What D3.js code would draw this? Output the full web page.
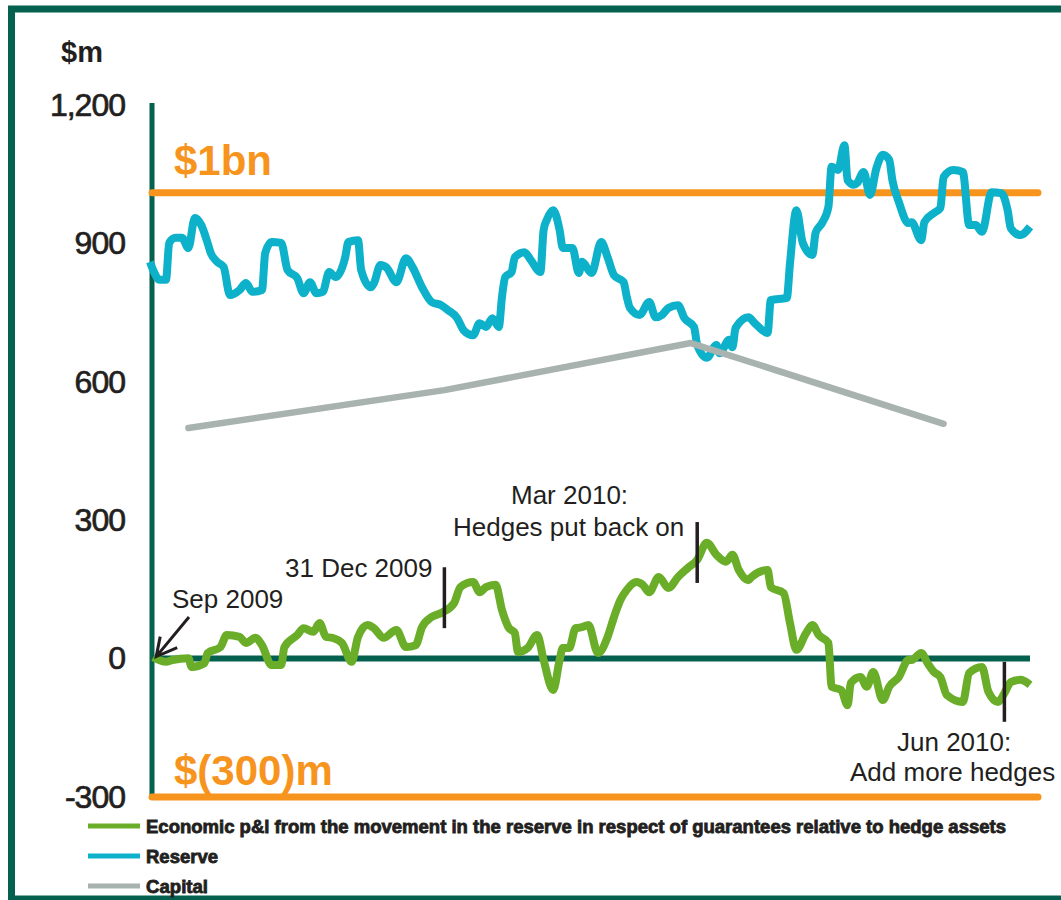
<!DOCTYPE html>
<html>
<head>
<meta charset="utf-8">
<script src="https://cdn.jsdelivr.net/npm/d3@7"></script>
<style>
  body { margin: 0; background: #fff; }
  text { font-family: Arial, "Liberation Sans", sans-serif; fill: #231f20; }
</style>
</head>
<body>
<script>
// chart size
var w = 1061;
var h = 900;

// first day on the x axis (end of Sep 2009), days counted from here
var startDate = new Date(2009, 8, 30);
var totalDays = 275;

// reserve ($m)
var reserveDays = [0,1,3,5,6,8,10,12,14,16,18,19,21,23,25,28,30,32,35,36,38,41,43,46,48,50,52,54,56,58,
  61,62,65,66,69,70,72,74,77,80,82,85,88,91,93,96,98,101,103,105,107,109,110,111,113,114,117,119,122,123,
  124,126,128,129,132,134,135,138,141,143,145,148,149,150,153,156,158,160,162,165,167,170,171,174,177,178,
  181,182,183,187,189,193,194,199,200,202,204,207,208,210,212,213,215,217,218,220,221,223,225,227,229,231,
  232,234,237,238,241,242,245,247,248,251,254,256,258,260,263,266,268,269,272,275];
var reserveValues = [860,842,821,821,901,912,912,890,955,940,901,879,860,849,788,799,814,795,799,879,903,901,842,825,792,816,792,795,838,827,
  870,903,907,842,805,814,853,847,816,868,849,805,773,766,756,738,712,701,727,719,738,719,784,827,838,870,881,864,838,929,
  951,972,929,890,890,836,860,836,903,870,831,816,784,760,745,773,740,745,760,766,738,719,680,652,680,662,
  691,675,717,740,727,706,777,782,857,972,901,875,923,944,979,1066,1059,1113,1037,1027,1031,1055,1005,1063,1092,1081,
  1037,990,944,946,907,946,966,977,1044,1059,1055,940,940,925,1011,1009,972,933,918,936];

// economic p&l ($m)
var pnlDays = [1,5,7,12,13,17,18,22,24,28,30,33,35,38,41,42,46,48,51,53,55,57,60,63,65,68,70,73,77,80,
  83,85,88,91,95,97,101,103,105,108,110,112,114,115,118,121,123,126,128,129,131,133,135,137,140,143,145,147,149,152,
  154,156,159,162,165,168,171,174,177,180,182,184,187,188,193,194,198,200,202,205,207,209,212,213,216,218,219,222,224,226,
  229,231,234,237,238,241,243,245,247,249,254,256,260,262,265,267,269,272,275];
var pnlValues = [3,-7,-3,1,-18,-10,12,25,51,47,34,45,29,-14,-14,25,51,66,58,77,47,45,34,-7,47,73,66,45,62,25,
  29,68,90,99,120,155,166,144,155,160,105,68,55,14,23,51,-3,-68,-3,23,23,66,68,73,12,47,90,127,149,166,
  160,144,177,153,177,196,214,251,225,210,225,192,170,177,192,155,142,77,19,55,73,51,34,-61,-68,-101,-53,-40,-61,-29,
  -90,-61,-40,-3,-3,12,-10,-29,-40,-79,-94,-31,-18,-72,-94,-75,-51,-46,-57];

// capital ($m)
var capitalDays = [12, 92, 169, 248];
var capitalValues = [500, 582, 684, 509];

// y axis ticks and reference levels
var yTicks = [-300, 0, 300, 600, 900, 1200];
var upperLevel = 1010;
var lowerLevel = -300;

// annotation ticks: day, top value, bottom value
var notes = [
  { day: 92, top: 198, bottom: 66 },
  { day: 171, top: 296, bottom: 164 },
  { day: 267, top: -7, bottom: -137 }
];

var legendNames = ["Economic p&l from the movement in the reserve in respect of guarantees relative to hedge assets", "Reserve", "Capital"];
var colors = { pnl: "#6aad28", reserve: "#0db1c9", capital: "#a8b2ae", orange: "#f7941d", frame: "#04614f" };

var toDate = function(d) { return d3.timeDay.offset(startDate, d); };

var x = d3.scaleTime()
  .domain([startDate, toDate(totalDays)])
  .range([150, 1030]);

var y = d3.scaleLinear()
  .domain([-300, 1200])
  .range([797, 105]);

var svg = d3.select("body")
  .append("svg")
  .attr("width", w)
  .attr("height", h);

// frame round the slide
svg.append("rect")
  .attr("x", 11.5).attr("y", 9)
  .attr("width", 1120).attr("height", 890)
  .attr("fill", "none")
  .attr("stroke", colors.frame)
  .attr("stroke-width", 7);

// $m title
svg.append("text")
  .attr("x", 61).attr("y", 62)
  .attr("font-size", 29).attr("font-weight", "bold")
  .text("$m");

// y axis labels
var axis = svg.append("g")
  .attr("transform", "translate(152,0)")
  .call(d3.axisLeft(y).tickValues(yTicks).tickSize(0).tickPadding(27)
    .tickFormat(function(d) { return d3.format(",")(d).replace("\u2212", "-"); }));
axis.select(".domain").remove();
axis.selectAll("text")
  .attr("font-size", 32)
  .attr("letter-spacing", -1)
  .attr("font-family", "Arial, 'Liberation Sans', sans-serif")
  .attr("fill", "#231f20")
  .attr("stroke", "#231f20")
  .attr("stroke-width", 0.7);

// y axis line
svg.append("line")
  .attr("x1", 152).attr("x2", 152)
  .attr("y1", 103).attr("y2", y(lowerLevel))
  .attr("stroke", colors.frame).attr("stroke-width", 5);

// orange reference levels
svg.selectAll(".level")
  .data([upperLevel, lowerLevel])
  .enter().append("line")
  .attr("x1", 152).attr("x2", 1038)
  .attr("y1", function(d) { return y(d); })
  .attr("y2", function(d) { return y(d); })
  .attr("stroke", colors.orange)
  .attr("stroke-width", 7)
  .attr("stroke-linecap", "round");

svg.append("text")
  .attr("x", 174).attr("y", 175)
  .attr("font-size", 42).attr("font-weight", "bold")
  .style("fill", colors.orange)
  .text("$1bn");

svg.append("text")
  .attr("x", 174).attr("y", 785)
  .attr("font-size", 42).attr("font-weight", "bold")
  .style("fill", colors.orange)
  .text("$(300)m");

// zero line
svg.append("line")
  .attr("x1", 152).attr("x2", x(toDate(totalDays)))
  .attr("y1", y(0)).attr("y2", y(0))
  .attr("stroke", colors.frame).attr("stroke-width", 6);

var line = d3.line()
  .curve(d3.curveMonotoneX)
  .x(function(d) { return x(toDate(d[0])); })
  .y(function(d) { return y(d[1]); });

var zip = function(a, b) { return a.map(function(d, i) { return [d, b[i]]; }); };

svg.append("path")
  .datum(zip(reserveDays, reserveValues))
  .attr("d", line)
  .attr("fill", "none")
  .attr("stroke", colors.reserve)
  .attr("stroke-width", 8)
  .attr("stroke-linejoin", "round");

svg.append("path")
  .datum(zip(capitalDays, capitalValues))
  .attr("d", d3.line()
    .x(function(d) { return x(toDate(d[0])); })
    .y(function(d) { return y(d[1]); }))
  .attr("fill", "none")
  .attr("stroke", colors.capital)
  .attr("stroke-width", 6.5)
  .attr("stroke-linecap", "round")
  .attr("stroke-linejoin", "round");

svg.append("path")
  .datum(zip(pnlDays, pnlValues))
  .attr("d", line)
  .attr("fill", "none")
  .attr("stroke", colors.pnl)
  .attr("stroke-width", 8)
  .attr("stroke-linejoin", "round");

// annotation ticks
svg.selectAll(".note")
  .data(notes)
  .enter().append("line")
  .attr("x1", function(d) { return x(toDate(d.day)); })
  .attr("x2", function(d) { return x(toDate(d.day)); })
  .attr("y1", function(d) { return y(d.top); })
  .attr("y2", function(d) { return y(d.bottom); })
  .attr("stroke", "#231f20")
  .attr("stroke-width", 3.5);

// arrow to Sep 2009 start
var tipX = x(toDate(1)) + 3, tipY = y(0) - 2;
svg.append("path")
  .attr("d", "M189,617L" + tipX + "," + tipY + "M" + (tipX + 4) + "," + (tipY - 20) + "L" + tipX + "," + tipY + "L" + (tipX + 21) + "," + (tipY - 9))
  .attr("fill", "none")
  .attr("stroke", "#231f20")
  .attr("stroke-width", 3);

var noteText = [
  { x: 172, y: 608, t: "Sep 2009" },
  { x: 285, y: 577, t: "31 Dec 2009" },
  { x: 511, y: 504, t: "Mar 2010:" },
  { x: 453, y: 536, t: "Hedges put back on" },
  { x: 897, y: 751, t: "Jun 2010:" },
  { x: 850, y: 781, t: "Add more hedges" }
];
svg.selectAll(".noteText")
  .data(noteText)
  .enter().append("text")
  .attr("x", function(d) { return d.x; })
  .attr("y", function(d) { return d.y; })
  .attr("font-size", 26)
  .text(function(d) { return d.t; });

// legend
var legendColors = [colors.pnl, colors.reserve, colors.capital];
var legend = svg.selectAll(".legend")
  .data(legendNames)
  .enter().append("g")
  .attr("transform", function(d, i) { return "translate(0," + (826 + i * 30) + ")"; });

legend.append("line")
  .attr("x1", 88).attr("x2", 140)
  .attr("stroke", function(d, i) { return legendColors[i]; })
  .attr("stroke-width", 5);

legend.append("text")
  .attr("x", 146).attr("y", 7)
  .attr("font-size", 18)
  .attr("font-weight", "900")
  .attr("stroke", "#231f20")
  .attr("stroke-width", 0.8)
  .attr("textLength", function(d, i) { return [860, 72, 62][i]; })
  .attr("lengthAdjust", "spacingAndGlyphs")
  .text(function(d) { return d; });
</script>
</body>
</html>
